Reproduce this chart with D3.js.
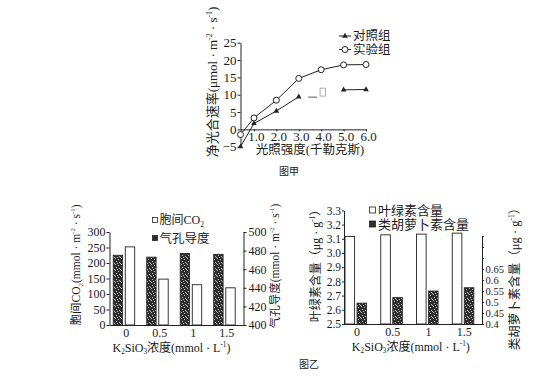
<!DOCTYPE html>
<html><head><meta charset="utf-8">
<script src="https://cdn.jsdelivr.net/npm/d3@7"></script>
<style>
body{margin:0;background:#fff;}
svg text{font-family:"Liberation Serif","Noto Sans CJK SC",serif;fill:#1a1a1a;}
</style></head><body>
<svg id="c" width="553" height="378"></svg>
<script>
// ---------------- DATA ----------------
// 图甲
const lightX = [0.4, 1, 2, 3, 4, 5, 6];
const controlRate = [-5, 1.7, 5.3, 9.4, null, 11.4, 11.5];
const expRate = [-1.5, 3.3, 8.4, 14.7, 17.2, 18.6, 18.7];
const rateTicks = [-5, 0, 5, 10, 15, 20, 25];
const lightTicks = [1, 2, 3, 4, 5, 6];
const seriesNames = ["对照组", "实验组"];

// 图乙 (left)
const conc = ["0", "0.5", "1", "1.5"];
const co2 = [252, 148, 130, 120];
const conductance = [475, 473, 477, 476];
const co2Ticks = [0, 50, 100, 150, 200, 250, 300];
const condTicks = [400, 420, 440, 460, 480, 500];
const leftLegend = ["胞间CO", "气孔导度"];

// 图乙 (right)
const chlorophyll = [3.116, 3.128, 3.133, 3.14];
const carotenoid = [0.495, 0.52, 0.55, 0.565];
const chlTicks = [2.5, 2.6, 2.7, 2.8, 2.9, 3.0, 3.1, 3.2, 3.3];
const carTicks = [0.4, 0.45, 0.5, 0.55, 0.6, 0.65, 0.7, 0.75, 0.8];
const carLabelMax = 0.65;
const rightLegend = ["叶绿素含量", "类胡萝卜素含量"];

// scan smudges on the control line gap (value space)
const smudgeDash = [[3.42, 9.3], [3.82, 9.3]];
const smudgeBox = [[3.95, 11.9], [4.2, 9.6]];

// ---------------- DRAW ----------------
const svg = d3.select("#c");
const INK = "#222";

const defs = svg.append("defs");
const pat = defs.append("pattern").attr("id", "speck").attr("patternUnits", "userSpaceOnUse")
  .attr("width", 6).attr("height", 6);
pat.append("rect").attr("width", 6).attr("height", 6).attr("fill", "#2e2e2e");
[[1,0],[4,1],[2,3],[5,4],[0,5],[3,5]].forEach(([a,b]) =>
  pat.append("rect").attr("x", a).attr("y", b).attr("width", 1).attr("height", 1).attr("fill", "#bdbdbd"));

function styleAxis(g, fs) {
  g.attr("font-family", null).attr("font-size", fs);
  g.selectAll("path,line").attr("stroke", INK).attr("stroke-width", 1);
  g.selectAll("text").attr("fill", "#1a1a1a");
}
function rich(parent, parts, fs) {
  const t = parent.append("text").attr("font-size", fs).attr("text-anchor", "middle");
  let shift = 0;
  parts.forEach(([s, k]) => {
    const target = k === "sup" ? -0.4 * fs : k === "sub" ? 0.22 * fs : 0;
    t.append("tspan").attr("dy", target - shift)
      .attr("font-size", k === "n" ? fs : fs * 0.6).text(s);
    shift = target;
  });
  return t;
}
function label(parent, x, y, s, fs, anchor) {
  return parent.append("text").attr("x", x).attr("y", y).attr("dy", "0.35em")
    .attr("font-size", fs).attr("text-anchor", anchor || "middle").text(s);
}

// ===== 图甲 =====
const xT = d3.scaleLinear([0.4, 6], [240.5, 366]);
const yT = d3.scaleLinear([-5, 25], [146.7, 42.7]);
const gT = svg.append("g");

const axTy = gT.append("g").attr("transform", `translate(${xT(0.4)},0)`)
  .call(d3.axisLeft(yT).tickValues(rateTicks).tickSize(3).tickPadding(1).tickSizeOuter(0));
styleAxis(axTy, 13);
const axTx = gT.append("g").attr("transform", `translate(0,${yT(0)})`)
  .call(d3.axisBottom(xT).tickValues(lightTicks).tickSize(2).tickPadding(0).tickSizeOuter(0));
styleAxis(axTx, 13);
axTx.selectAll("text").attr("dx", 2);

const pts = vals => lightX.map((x, i) => ({ x, y: vals[i] }));
const lineT = d3.line().defined(d => d.y != null).x(d => xT(d.x)).y(d => yT(d.y));
gT.append("path").datum(pts(controlRate)).attr("d", lineT)
  .attr("fill", "none").attr("stroke", INK).attr("stroke-width", 1);
gT.append("path").datum(pts(expRate)).attr("d", lineT)
  .attr("fill", "none").attr("stroke", INK).attr("stroke-width", 1);

const tri = d3.symbol(d3.symbolTriangle, 14);
gT.selectAll(".tri").data(pts(controlRate).filter(d => d.y != null)).join("path")
  .attr("d", tri).attr("transform", d => `translate(${xT(d.x)},${yT(d.y)})`).attr("fill", INK);
gT.selectAll(".circ").data(pts(expRate)).join("circle")
  .attr("cx", d => xT(d.x)).attr("cy", d => yT(d.y)).attr("r", 3)
  .attr("fill", "#fff").attr("stroke", INK).attr("stroke-width", 1);

// smudges
gT.append("line").attr("x1", xT(smudgeDash[0][0])).attr("x2", xT(smudgeDash[1][0]))
  .attr("y1", yT(smudgeDash[0][1])).attr("y2", yT(smudgeDash[1][1])).attr("stroke", "#555");
gT.append("rect").attr("x", xT(smudgeBox[0][0])).attr("y", yT(smudgeBox[0][1]))
  .attr("width", xT(smudgeBox[1][0]) - xT(smudgeBox[0][0]))
  .attr("height", yT(smudgeBox[1][1]) - yT(smudgeBox[0][1]))
  .attr("fill", "none").attr("stroke", "#999").attr("stroke-width", 0.8);

// legend 图甲
const legY = [36, 49.5];
seriesNames.forEach((n, i) => {
  gT.append("line").attr("x1", 339).attr("x2", 351).attr("y1", legY[i]).attr("y2", legY[i])
    .attr("stroke", INK);
  if (i === 0) gT.append("path").attr("d", tri).attr("transform", `translate(345,${legY[i]})`).attr("fill", INK);
  else gT.append("circle").attr("cx", 345).attr("cy", legY[i]).attr("r", 3)
    .attr("fill", "#fff").attr("stroke", INK);
  label(gT, 353, legY[i], n, 12.5, "start");
});

rich(gT, [["净光合速率(μmol · m", "n"], ["-2", "sup"], [" · s", "n"], ["-1", "sup"], [")", "n"]], 13)
  .attr("transform", "translate(217,82) rotate(-90)");
label(gT, 310, 150, "光照强度(千勒克斯)", 12.5);
label(gT, 289, 171, "图甲", 10);

// ===== 图乙 left =====
const gL = svg.append("g");
const xL = d3.scaleBand(conc, [109.5, 243.5]);
const inL = d3.scaleBand(["cond", "co2"], [3.7, 25.2]).paddingInner(0.22);
const yL = d3.scaleLinear([0, 300], [325, 232]);
const yLR = d3.scaleLinear([400, 500], [325, 232]);

gL.selectAll(".cond").data(conc).join("rect")
  .attr("x", c => xL(c) + inL("cond")).attr("width", inL.bandwidth())
  .attr("y", (c, i) => yLR(conductance[i])).attr("height", (c, i) => yLR(400) - yLR(conductance[i]))
  .attr("fill", "url(#speck)").attr("stroke", INK).attr("stroke-width", 0.8);
gL.selectAll(".co2").data(conc).join("rect")
  .attr("x", c => xL(c) + inL("co2")).attr("width", inL.bandwidth())
  .attr("y", (c, i) => yL(co2[i])).attr("height", (c, i) => yL(0) - yL(co2[i]))
  .attr("fill", "#fff").attr("stroke", INK).attr("stroke-width", 0.9);

const axLl = gL.append("g").attr("transform", "translate(109.5,0)")
  .call(d3.axisLeft(yL).tickValues(co2Ticks).tickSize(3).tickPadding(1).tickSizeOuter(0));
styleAxis(axLl, 12);
const axLr = gL.append("g").attr("transform", "translate(243.5,0)")
  .call(d3.axisRight(yLR).tickValues(condTicks).tickSize(3).tickPadding(2).tickSizeOuter(0));
styleAxis(axLr, 12);
const axLb = gL.append("g").attr("transform", "translate(0,325)")
  .call(d3.axisBottom(xL).tickSize(0).tickPadding(3).tickSizeOuter(0));
styleAxis(axLb, 12);

// legend left
gL.append("rect").attr("x", 152.5).attr("y", 217.5).attr("width", 5).attr("height", 5)
  .attr("fill", "#fff").attr("stroke", INK).attr("stroke-width", 0.8);
gL.append("rect").attr("x", 152.5).attr("y", 235.5).attr("width", 5).attr("height", 5)
  .attr("fill", "#2e2e2e").attr("stroke", INK).attr("stroke-width", 0.8);
const lt = gL.append("text").attr("x", 159.5).attr("y", 220).attr("dy", "0.35em").attr("font-size", 12);
lt.append("tspan").text(leftLegend[0]);
lt.append("tspan").attr("font-size", 7.5).attr("dy", 2.5).text("2");
label(gL, 159.5, 238.3, leftLegend[1], 12.5, "start");

rich(gL, [["胞间CO", "n"], ["2", "sub"], ["(mmol · m", "n"], ["-2", "sup"], [" · s", "n"], ["-1", "sup"], [")", "n"]], 11.5)
  .attr("transform", "translate(80,265) rotate(-90)");
rich(gL, [["气孔导度(mmol · m", "n"], ["-2", "sup"], [" · s", "n"], ["-1", "sup"], [")", "n"]], 11.5)
  .attr("transform", "translate(279,266) rotate(-90)");
rich(gL, [["K", "n"], ["2", "sub"], ["SiO", "n"], ["3", "sub"], ["浓度(mmol · L", "n"], ["-1", "sup"], [")", "n"]], 12)
  .attr("transform", "translate(171.5,351.5)");

// ===== 图乙 right =====
const gR = svg.append("g");
const xR = d3.scaleBand(conc, [339, 482]);
const inR = d3.scaleBand(["chl", "car"], [6, 27.6]).paddingInner(0.2);
const yC = d3.scaleLinear([2.5, 3.3], [324, 210.4]);
const yK = d3.scaleLinear([0.4, 0.8], [324, 236]);

gR.selectAll(".chl").data(conc).join("rect")
  .attr("x", c => xR(c) + inR("chl")).attr("width", inR.bandwidth())
  .attr("y", (c, i) => yC(chlorophyll[i])).attr("height", (c, i) => yC(2.5) - yC(chlorophyll[i]))
  .attr("fill", "#fff").attr("stroke", INK).attr("stroke-width", 0.9);
gR.selectAll(".car").data(conc).join("rect")
  .attr("x", c => xR(c) + inR("car")).attr("width", inR.bandwidth())
  .attr("y", (c, i) => yK(carotenoid[i])).attr("height", (c, i) => yK(0.4) - yK(carotenoid[i]))
  .attr("fill", "url(#speck)").attr("stroke", INK).attr("stroke-width", 0.8);

const axRl = gR.append("g").attr("transform", "translate(344,0)")
  .call(d3.axisLeft(yC).tickValues(chlTicks).tickFormat(d3.format(".1f")).tickSize(2).tickPadding(1).tickSizeOuter(0));
styleAxis(axRl, 11.5);
const axRr = gR.append("g").attr("transform", "translate(482,0)")
  .call(d3.axisRight(yK).tickValues(carTicks)
    .tickFormat(d => d <= carLabelMax + 1e-9 ? String(+d.toFixed(2)) : "")
    .tickSize(2).tickPadding(1.5).tickSizeOuter(0));
styleAxis(axRr, 10.5);
const axRb = gR.append("g").attr("transform", "translate(0,324)")
  .call(d3.axisBottom(xR).tickSize(0).tickPadding(3).tickSizeOuter(0));
styleAxis(axRb, 12);
axRb.select(".domain").remove();
gR.append("line").attr("x1", 344).attr("x2", 482).attr("y1", 324.5).attr("y2", 324.5).attr("stroke", INK);

// legend right
gR.append("rect").attr("x", 369.5).attr("y", 207).attr("width", 6).attr("height", 6)
  .attr("fill", "#fff").attr("stroke", INK).attr("stroke-width", 0.8);
gR.append("rect").attr("x", 369.5).attr("y", 221).attr("width", 6).attr("height", 6)
  .attr("fill", "#2e2e2e").attr("stroke", INK).attr("stroke-width", 0.8);
label(gR, 378, 210, rightLegend[0], 13, "start");
label(gR, 378, 224, rightLegend[1], 13, "start");

rich(gR, [["叶绿素含量（μg · g", "n"], ["-1", "sup"], ["）", "n"]], 12)
  .attr("transform", "translate(320,263) rotate(-90)");
rich(gR, [["类胡萝卜素含量（μg · g", "n"], ["-1", "sup"], ["）", "n"]], 12.5)
  .attr("transform", "translate(518.5,276) rotate(-90)");
rich(gR, [["K", "n"], ["2", "sub"], ["SiO", "n"], ["3", "sub"], ["浓度(mmol · L", "n"], ["-1", "sup"], [")", "n"]], 12)
  .attr("transform", "translate(410.8,350.5)");

label(svg, 309, 364, "图乙", 10);
</script>
</body></html>
